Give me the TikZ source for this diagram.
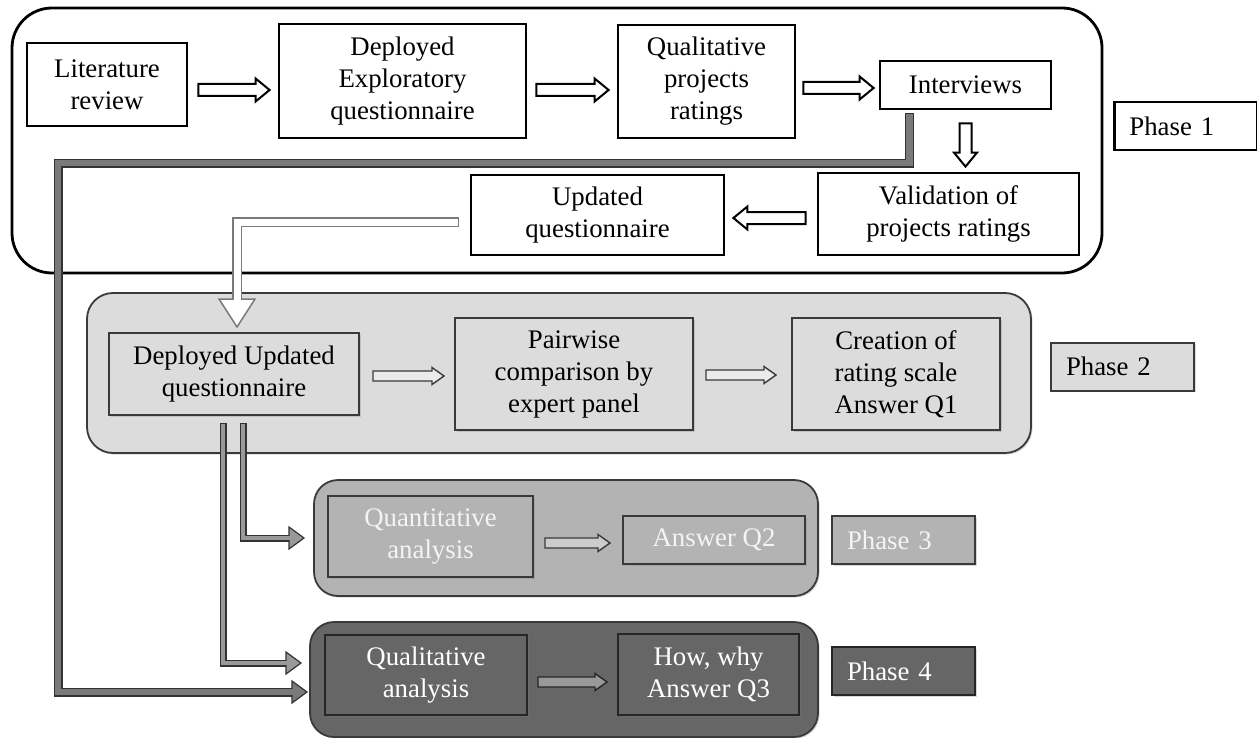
\documentclass[tikz,border=0pt]{standalone}
\usepackage{fontspec}
\setmainfont{Liberation Serif}
\usetikzlibrary{calc,shadows}

\definecolor{ptwo}{HTML}{DCDCDC}
\definecolor{pthree}{HTML}{B3B3B3}
\definecolor{pfour}{HTML}{666666}
\definecolor{edge}{HTML}{3A3A3A}
\definecolor{lighttext}{HTML}{F4F4F4}
\definecolor{pipegray}{HTML}{7A7A7A}
\definecolor{pipefill}{HTML}{999999}

% box between two corners: [style]{name}{x1}{y1}{x2}{y2}{text}
\newcommand\boxnode[7][]{%
  \node[#1, minimum width={(#5-#3)*0.5pt}, minimum height={(#6-#4)*0.5pt}]
    (#2) at ({(#3+#5)/2},{(#4+#6)/2}) {#7};
}

% straight block arrow: [style]{start}{end}{shaft half width}{head half width}{head length}
\newcommand\blockarrow[6][]{%
  \coordinate (ba-s) at (#2);
  \coordinate (ba-e) at (#3);
  \coordinate (ba-b) at ($(ba-e)!#6!(ba-s)$);
  \draw[#1] ($(ba-s)!#4!90:(ba-e)$) -- ($(ba-b)!#4!-90:(ba-s)$)
    -- ($(ba-b)!#5!-90:(ba-s)$) -- (ba-e) -- ($(ba-b)!#5!90:(ba-s)$)
    -- ($(ba-b)!#4!90:(ba-s)$) -- ($(ba-s)!#4!-90:(ba-e)$) -- cycle;
}

% bent hollow arrow: outline colour, fill colour, outer width, inner width,
% border width, head half width, shaft path, head base, tip
\newcommand\pipearrow[9]{%
  \draw[#1, line width=#3, line join=miter, shorten <=-#5] #7;
  \filldraw[draw=#1, fill=#2, line width=#5, line join=miter]
    ($(#8)!#6!90:(#9)$) -- (#9) -- ($(#8)!#6!-90:(#9)$) -- cycle;
  \draw[#2, line width=#4, line join=miter, shorten >=-#5] #7;
}

\tikzset{
  every node/.style={font=\fontsize{13.4}{16}\selectfont, align=center, inner sep=0pt},
  soft/.style={drop shadow={shadow xshift=0.8pt, shadow yshift=-0.8pt, opacity=0.3}},
  frameone/.style={draw=black, line width=1.4pt, rounded corners=20pt},
  frametwo/.style={draw=edge, line width=0.9pt, fill=ptwo, rounded corners=13pt, soft},
  framethree/.style={draw=edge, line width=0.9pt, fill=pthree, rounded corners=12pt, soft},
  framefour/.style={draw=edge, line width=0.9pt, fill=pfour, rounded corners=12pt, soft},
  boxone/.style={draw=black, line width=1.4pt, fill=white},
  boxtwo/.style={draw=edge, line width=1pt, fill=ptwo, soft},
  boxthree/.style={draw=edge, line width=1pt, fill=pthree, text=lighttext, soft},
  boxfour/.style={draw=black!85, line width=1pt, fill=pfour, text=white, soft},
  phaselabel/.style={anchor=west, minimum height=24pt, inner xsep=7.5pt,
    text width=56.5pt, align=left},
  arrowone/.style={draw=black, line width=1pt, fill=white},
  arrowtwo/.style={draw=edge, line width=0.7pt, fill=white!92!black},
  arrowthree/.style={draw=edge, line width=0.7pt, fill=white!80!black},
  arrowfour/.style={draw=black!85, line width=0.7pt, fill=pipefill},
}

\begin{document}
\begin{tikzpicture}[x=0.5pt, y=-0.5pt]
\useasboundingbox (0,0) rectangle (1257,738);

% phase frames
\boxnode[frameone]{frame1}{12}{8}{1102}{273}{}
\boxnode[frametwo]{frame2}{87}{293}{1031}{453}{}
\boxnode[framethree]{frame3}{314}{480}{818}{596}{}
\boxnode[framefour]{frame4}{310}{622}{818}{737}{}

% phase 1
\boxnode[boxone]{lit}{27}{43}{187}{126}{Literature\\review}
\boxnode[boxone]{dep}{279}{24}{526}{138}{Deployed\\Exploratory\\questionnaire}
\boxnode[boxone]{qual}{618}{25}{795}{138}{Qualitative\\projects\\ratings}
\boxnode[boxone]{int}{880}{61}{1051}{109}{Interviews}
\boxnode[boxone]{val}{818}{173}{1079}{255}{Validation of\\projects ratings}
\boxnode[boxone]{upd}{471}{175}{724}{255}{Updated\\questionnaire}
\node[boxone, phaselabel] (ph1) at (1113,126) {Phase 1};

% phase 2
\boxnode[boxtwo]{du}{109}{333}{359}{415}{Deployed Updated\\questionnaire}
\boxnode[boxtwo]{pair}{455}{318}{693}{430}{Pairwise\\comparison by\\expert panel}
\boxnode[boxtwo]{cre}{792}{318}{1000}{430}{Creation of\\rating scale\\Answer Q1}
\node[boxtwo, phaselabel] (ph2) at (1050,366.5) {Phase 2};

% phase 3
\boxnode[boxthree]{quant}{328}{496}{533}{577}{Quantitative\\analysis}
\boxnode[boxthree]{aq2}{623}{516}{805}{564}{Answer Q2}
\node[boxthree, phaselabel] (ph3) at (831,540) {Phase 3};

% phase 4
\boxnode[boxfour]{qan}{325}{635}{527}{715}{Qualitative\\analysis}
\boxnode[boxfour]{how}{618}{634}{799}{715}{How, why\\Answer Q3}
\node[boxfour, phaselabel] (ph4) at (831,671) {Phase 4};

% bent connectors
\coordinate (a6s) at ($(upd.west)+(-12,7)$);
\coordinate (a6t) at ($(du.north)+(3,-5)$);
\coordinate (a6b) at ($(a6t)+(0,-28)$);
\pipearrow{pipegray}{white}{5pt}{3.5pt}{0.75pt}{9pt}{(a6s) -- (a6s -| a6t) -- (a6b)}{a6b}{a6t}

\coordinate (a11s) at ($(int.south west)+(31,4)$);
\coordinate (k1) at (58,163);
\coordinate (a11t) at ($(qan.west)+(-17,17)$);
\coordinate (a11b) at ($(a11t)+(-15,0)$);
\pipearrow{black!80}{pipegray}{4.5pt}{3.3pt}{0.6pt}{5.5pt}{(a11s) -- (a11s |- k1) -- (k1) -- (k1 |- a11t) -- (a11b)}{a11b}{a11t}

\coordinate (a9s) at ($(du.south)+(9,8)$);
\coordinate (a9t) at ($(quant.west)+(-23,1.5)$);
\coordinate (a9b) at ($(a9t)+(-15,0)$);
\pipearrow{black!80}{pipefill}{3.5pt}{2.3pt}{0.6pt}{5.5pt}{(a9s) -- (a9s |- a9t) -- (a9b)}{a9b}{a9t}

\coordinate (a10s) at ($(du.south)+(-11,8)$);
\coordinate (a10t) at ($(qan.west)+(-23,-12)$);
\coordinate (a10b) at ($(a10t)+(-15,0)$);
\pipearrow{black!80}{pipefill}{3.5pt}{2.3pt}{0.6pt}{5.5pt}{(a10s) -- (a10s |- a10t) -- (a10b)}{a10b}{a10t}

% straight connectors
\blockarrow[arrowone]{$(lit.east |- 0,90)+(10,0)$}{$(dep.west |- 0,90)+(-8,0)$}{3pt}{5.75pt}{7pt}
\blockarrow[arrowone]{$(dep.east |- 0,90)+(9,0)$}{$(qual.west |- 0,90)+(-8,0)$}{3pt}{5.75pt}{7pt}
\blockarrow[arrowone]{$(qual.east |- 0,88)+(7,0)$}{$(int.west |- 0,88)+(-5,0)$}{3pt}{5.75pt}{7pt}
\blockarrow[arrowone]{$(int.south)+(0,13)$}{$(val.north -| int.south)+(0,-5)$}{3pt}{5.75pt}{7pt}
\blockarrow[arrowone]{$(val.west |- 0,218)+(-11,0)$}{$(upd.east |- 0,218)+(8,0)$}{3pt}{5.75pt}{7pt}

\blockarrow[arrowtwo]{$(du.east |- 0,376)+(13,0)$}{$(pair.west |- 0,376)+(-10,0)$}{2.5pt}{4.25pt}{6pt}
\blockarrow[arrowtwo]{$(pair.east |- 0,375)+(12,0)$}{$(cre.west |- 0,375)+(-15,0)$}{2.5pt}{4.25pt}{6pt}
\blockarrow[arrowthree]{$(quant.east |- 0,543)+(11,0)$}{$(aq2.west |- 0,543)+(-12,0)$}{2.5pt}{4.25pt}{6pt}
\blockarrow[arrowfour]{$(qan.east |- 0,682)+(10,0)$}{$(how.west |- 0,682)+(-10,0)$}{2.5pt}{4.25pt}{6pt}
\end{tikzpicture}
\end{document}
